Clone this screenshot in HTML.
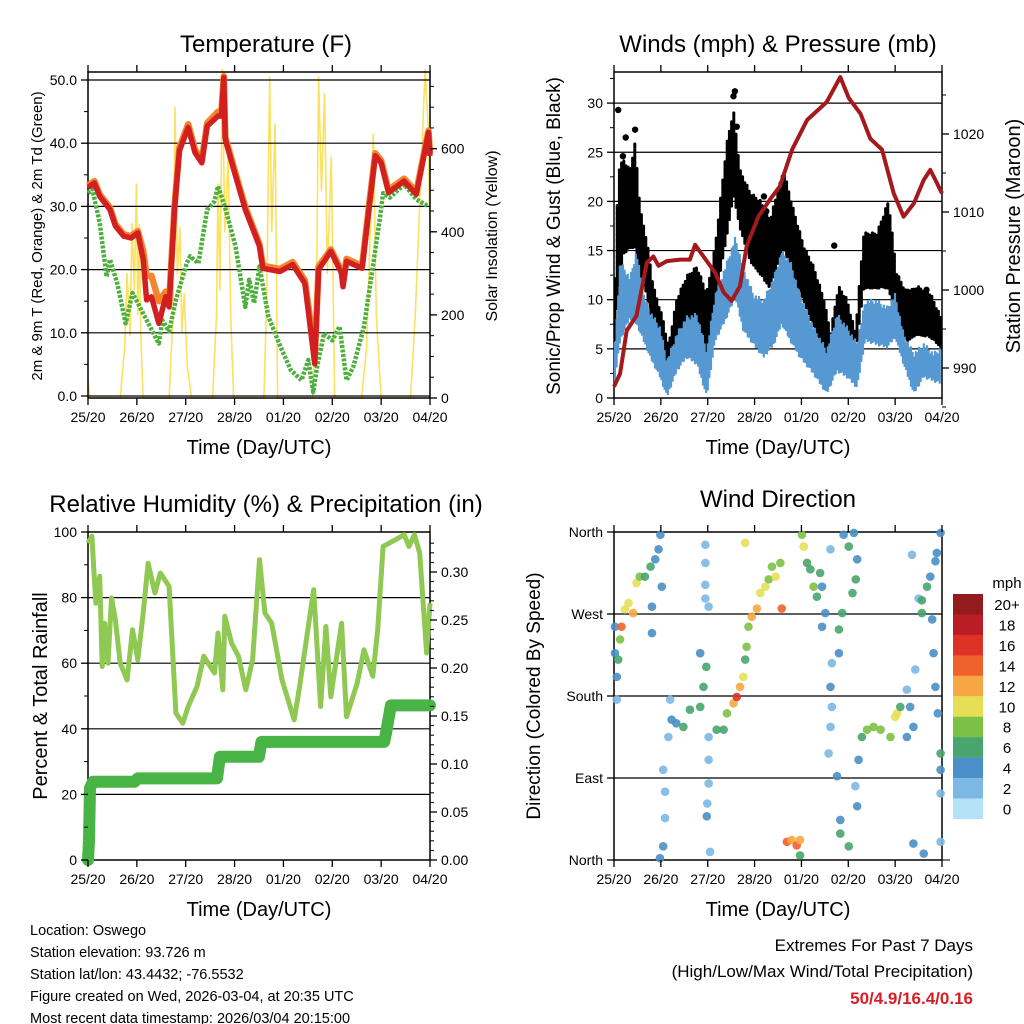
<!DOCTYPE html>
<html><head><meta charset="utf-8"><style>
body{margin:0;background:#fff;}
svg{display:block;font-family:"Liberation Sans",sans-serif;}
</style></head><body>
<svg id="c" width="1024" height="1024" viewBox="0 0 1024 1024"></svg>
<script>
// ---------- DATA ----------
const tempT=[0,0.13,0.24,0.45,0.56,0.73,0.88,1.02,1.13,1.2,1.3,1.45,1.59,1.66,1.77,1.87,2.05,2.19,2.33,2.44,2.66,2.73,2.78,2.81,2.98,3.22,3.51,3.58,3.93,4.19,4.44,4.54,4.64,4.72,4.97,5.19,5.22,5.29,5.61,5.75,5.88,6.0,6.15,6.47,6.72,6.86,6.97,7.0];
const temp2m=[33,33.7,31.6,29.5,26.9,25.3,25,25.8,21.6,15.2,15.7,11.5,15.7,14.1,29.5,38.8,42.5,38.5,36.9,42.7,44.3,44.3,50.4,40.6,35.9,29.5,23.7,20.2,19.7,20.8,17.8,11.5,5.1,20,22.9,19.4,17.3,21.3,20.2,29.5,38,36.9,32.2,34,31.9,37.4,41.7,38];
const temp9m=[33.3,34,31.9,29.8,27.2,25.6,25.3,26.1,23,19,19,15,16.5,14.8,30,39.3,43,39,37.3,43.2,45,45,50.6,41,36.3,29.9,24,20.6,20.1,21.2,18.3,12.5,6,20.5,23.2,19.8,17.8,21.7,20.6,30,38.4,37.3,32.6,34.4,32.3,37.8,42,38.4];
const dewT=[0,0.09,0.24,0.3,0.38,0.45,0.6,0.77,0.91,1.02,1.16,1.34,1.45,1.52,1.66,1.8,2.02,2.09,2.26,2.44,2.59,2.66,2.8,3.02,3.22,3.3,3.4,3.51,3.69,3.94,4.15,4.37,4.51,4.61,4.69,4.83,5.0,5.15,5.29,5.43,5.65,5.79,5.97,6.04,6.18,6.47,6.72,6.97];
const dewVals=[32.1,32.7,27.4,23.7,18.9,21.6,17.8,11.5,16.3,14.7,12.6,9.9,8.3,12,10.2,15.2,21,22.1,21,29.5,30.8,33.2,30,23.7,14.1,18.4,14.7,20.5,12.6,7.8,4.1,2.5,5.7,0.6,4.6,9.9,8.8,11,2.5,4.6,11,18.4,27.9,32.1,31.4,33.5,31.1,30];
const solarT=[0,0.03,0.06,0.66,0.75,0.8,0.86,0.9,0.95,0.99,1.02,1.05,1.08,1.13,1.66,1.74,1.78,1.83,1.88,1.92,1.97,2.03,2.12,2.55,2.63,2.66,2.7,2.75,2.8,2.87,2.92,2.98,3.6,3.66,3.72,3.76,3.83,3.88,4.6,4.68,4.72,4.78,4.84,4.9,4.98,5.05,5.6,5.7,5.84,5.9,6.0,6.6,6.7,6.9,6.96,7.0];
const solarVals=[40,10,0,0,120,300,150,420,260,515,200,418,150,0,0,200,700,300,410,160,250,80,0,0,200,515,260,790,400,580,200,0,0,250,773,400,660,0,0,300,773,500,732,300,580,0,0,120,635,200,0,0,200,790,660,400];
const presT=[0,0.13,0.27,0.48,0.7,0.84,0.95,1.13,1.41,1.62,1.73,1.91,2.16,2.34,2.51,2.69,2.83,3.08,3.33,3.54,3.8,4.12,4.54,4.83,5.01,5.26,5.47,5.72,5.97,6.18,6.4,6.61,6.75,6.86,7.0];
const presVals=[987.6,989.3,994.8,996.7,1003.5,1004.3,1003.1,1003.7,1003.9,1003.9,1005.8,1004.3,1002.2,999.7,998.6,1000.5,1005.6,1009.4,1011.6,1013.3,1018,1021.8,1024.1,1027.3,1024.6,1022.6,1019.4,1018,1012.4,1009.4,1011.1,1014.1,1015.4,1014.1,1012.4];
const windT=[0,0.13,0.34,0.48,0.63,0.77,0.98,1.13,1.34,1.55,1.77,1.98,2.16,2.37,2.59,2.76,2.98,3.19,3.41,3.58,3.76,3.97,4.26,4.54,4.76,4.97,5.19,5.36,5.61,5.83,6.0,6.18,6.4,6.61,6.82,7.0];
const windHi=[4,14.1,12.4,15.1,10.7,9,7.4,4,6.7,8.4,8.7,5,10.7,13.4,16.5,13.4,10.7,10.1,12.4,15.1,14.1,10.7,7.4,5,8.7,7.4,5.7,10.1,10.1,9.4,10.7,6.7,4.7,5.7,4.7,5.3];
const windLo=[0.9,5.7,8,7.4,5.7,4,2,0,2.6,4,3.3,0,5.7,7.7,10.1,6.7,5.3,4,5.3,7.4,5.7,4,2.3,0.3,2.6,2,0.9,5.7,5.3,5,6,3.3,0.3,2,1.6,1.3];
const gustT=[0,0.09,0.2,0.34,0.45,0.56,0.7,0.84,1.05,1.16,1.34,1.55,1.77,1.98,2.16,2.41,2.55,2.69,2.91,3.12,3.33,3.62,3.83,4.05,4.26,4.48,4.62,4.79,4.97,5.15,5.33,5.61,5.86,6.03,6.25,6.47,6.75,7.0];
const gustHi=[8.7,23.2,24.3,23.2,26,19.2,16.1,11.4,8,5.3,10.1,12.4,13.4,10.7,15.5,26,29.3,23.2,20.9,20.1,18.2,23.2,19.2,15.5,13.4,10.1,6.7,11.4,10.1,6.7,16.8,16.8,20.1,12.8,10.7,11.4,10.7,8];
const gustLo=[4.7,10.7,14.8,15.5,15.5,12.8,10.7,6.7,4,2,4.7,6.7,7.4,4,10.1,16.8,20.9,17.5,14.1,12.8,11.4,15.5,12.4,10.1,7.4,5,3.3,6.7,5.3,4.7,11.4,11.4,11.4,8,6,6.7,6.4,5.3];
const gustOutT=[0.09,0.19,0.25,0.45,2.55,2.58,2.62,3.2,3.25,4.7,5.59,6.27,6.67];
const gustOutV=[29.3,24.6,26.5,27.3,30.7,31.2,27.6,20.5,19,15.5,15.5,10.8,11];
const rhT=[0,0.08,0.16,0.24,0.29,0.34,0.41,0.48,0.56,0.66,0.8,0.91,1.02,1.13,1.23,1.37,1.48,1.66,1.8,1.94,2.05,2.23,2.37,2.59,2.66,2.76,2.8,2.94,3.08,3.23,3.37,3.51,3.62,3.76,3.97,4.22,4.33,4.51,4.62,4.76,4.87,4.97,5.19,5.29,5.51,5.65,5.83,5.93,6.04,6.36,6.47,6.57,6.68,6.79,6.93,7.0];
const rhVals=[96.6,98.7,78.3,86.5,59,72.2,60,79.9,73.2,60,54.9,70.2,61,75.3,90.5,81.4,87.5,83.4,44.8,41.7,46.8,52.9,62.1,57,69.2,51.9,74.3,66.1,62.1,51.9,61,91.6,75.3,72.2,54.9,42.7,52.9,71.2,82.4,46.8,71.2,49.8,72.2,43.7,53.9,64.1,56,70.2,95.6,98.2,99.2,95.6,99.2,93.6,63.1,78.3];
const precT=[0,0.02,0.04,0.1,0.95,1.02,2.64,2.7,3.5,3.55,6.06,6.1,6.2,7.0];
const precVals=[0,0.02,0.075,0.0815,0.0815,0.085,0.085,0.1075,0.1075,0.123,0.123,0.132,0.161,0.161];
const dirT=[0.02,0.02,0.06,0.06,0.09,0.13,0.16,0.23,0.31,0.41,0.48,0.55,0.66,0.78,0.88,0.95,0.99,1.02,0.81,0.81,
0.98,1.05,1.09,1.09,1.05,1.16,1.2,1.23,1.33,1.48,1.62,1.84,1.91,1.84,1.97,1.95,1.95,1.95,1.95,2.02,2.02,2.02,2.02,1.99,1.98,
2.05,2.19,2.34,2.41,2.55,2.62,2.69,2.76,2.8,2.83,2.87,2.94,3.05,3.12,3.23,3.3,3.37,3.45,3.55,2.8,
3.58,3.69,3.79,3.9,3.97,
3.97,4.01,4.05,4.12,4.19,4.26,4.33,4.4,4.44,4.51,4.44,
4.62,4.65,4.62,4.65,4.62,4.58,4.76,4.8,
4.8,4.83,5.01,4.83,4.9,5.01,5.19,5.16,5.09,4.87,
5.12,5.15,5.19,5.22,5.29,5.4,5.54,5.69,5.9,6.0,6.04,6.11,6.25,6.39,6.32,6.25,
6.43,6.5,6.57,6.57,6.68,6.75,6.79,6.82,6.86,6.91,6.97,6.97,6.61,6.39,6.36,6.97,6.97,6.97,6.89,6.86];
const dirVals=[256,227,201,176,220,242,256,275,282,271,304,311,311,322,330,341,357,300,278,249,
2,15,75,46,99,135,176,154,150,146,165,168,190,227,212,346,326,302,287,278,135,110,84,62,48,9,
143,143,161,172,179,190,201,220,234,256,267,276,293,300,308,322,311,326,348,276,
20,22,16,22,5,
357,344,326,319,300,289,315,300,271,256,341,
216,190,168,146,117,92,227,253,
29,15,44,357,344,330,308,293,271,359,
81,59,110,135,143,146,143,135,157,161,168,135,146,168,187,209,
287,271,285,300,311,264,227,190,161,117,99,7,18,335,73,20,359,337,328,139];
const dirSpd=[4,4,4,2,6,8,14,10,10,12,10,8,6,6,4,4,4,4,4,4,
4,4,2,2,2,2,2,4,4,6,6,6,6,4,6,2,2,2,2,2,2,2,2,2,4,2,
6,6,8,12,16,12,10,6,8,8,12,12,10,10,8,8,10,8,10,14,
14,12,14,12,6,
8,10,6,6,8,6,6,4,4,4,2,
2,4,2,2,2,4,4,6,
6,6,4,4,6,4,6,6,6,4,
2,4,4,6,8,8,8,8,10,10,6,4,4,4,2,2,
2,6,6,6,4,4,4,4,4,6,4,4,4,2,2,2,4,4,4,2];
const cbLabels=["20+","18","16","14","12","10","8","6","4","2","0"];
const cbColors=["#931a1d","#bb1d24","#dd3327","#f0622b","#f6a744","#e6df55","#7bc146","#47a56d","#4a8fc7","#7cb8e3","#b4e2f7"];
const dayLabels=["25/20","26/20","27/20","28/20","01/20","02/20","03/20","04/20"];

// ---------- HELPERS ----------
const NS="http://www.w3.org/2000/svg";
const svg=document.getElementById('c');
function mk(tag,attrs,parent){const e=document.createElementNS(NS,tag);for(const k in attrs)e.setAttribute(k,attrs[k]);(parent||svg).appendChild(e);return e;}
function txt(s,x,y,size,anchor,parent,extra){const e=mk('text',Object.assign({x:x,y:y,'font-size':size,'text-anchor':anchor||'middle',fill:'#000'},extra||{}),parent);e.textContent=s;return e;}
function spd2col(s){let i=Math.round(s/2);if(i>10)i=10;if(i<0)i=0;return cbColors[10-i];}
function path(xs,ys){return xs.map((x,i)=>(i?'L':'M')+x.toFixed(1)+' '+ys[i].toFixed(1)).join(' ');}
function interp(T,V,t){for(let i=1;i<T.length;i++){if(t<=T[i]){const f=(t-T[i-1])/(T[i]-T[i-1]||1);return V[i-1]+f*(V[i]-V[i-1]);}}return V[V.length-1];}

function axesFrame(g,x0,x1,y0,y1,grid){
  grid.forEach(y=>{const l=mk('line',{x1:x0,x2:x1,y1:y,y2:y,stroke:'#000','stroke-width':1.2},g);});
  const r=mk('rect',{x:x0,y:y0,width:x1-x0,height:y1-y0,fill:'none',stroke:'#000','stroke-width':1.5},g);
  
}
function xAxis(g,x0,x1,y0,y1){
  const xs=d=>x0+(x1-x0)*d/7;
  for(let d=0;d<=7;d++){
    mk('line',{x1:xs(d),x2:xs(d),y1:y1,y2:y1+7,stroke:'#000','stroke-width':1.3},g);
    mk('line',{x1:xs(d),x2:xs(d),y1:y0,y2:y0-7,stroke:'#000','stroke-width':1.3},g);
    const t=txt(dayLabels[d],xs(d),y1+24,14,'middle',g);
    
  }
  const t=txt('Time (Day/UTC)',(x0+x1)/2,y1+56,20,'middle',g);
  
  return xs;
}
function yTicks(g,x,vals,ys,labels,side,minors,size){
  const dir=side==='left'?-1:1;
  minors.forEach(v=>mk('line',{x1:x,x2:x+dir*4,y1:ys(v),y2:ys(v),stroke:'#000','stroke-width':1},g));
  vals.forEach((v,i)=>{
    mk('line',{x1:x,x2:x+dir*7,y1:ys(v),y2:ys(v),stroke:'#000','stroke-width':1.3},g);
    const t=txt(labels[i],x+dir*11,ys(v)+5,size||14,side==='left'?'end':'start',g);
    
  });
}
function rotLabel(g,s,x,y,size,name){const t=txt(s,x,y,size,'middle',g,{transform:`rotate(-90 ${x} ${y})`});}
function title(g,s,x,y){const t=txt(s,x,y,24,'middle',g);}
function range(a,b,s){const r=[];for(let v=a;v<=b+1e-9;v+=s)r.push(+v.toFixed(4));return r;}

// ---------- PANEL 1: Temperature ----------
(function(){
  const g=mk('g',{});
  const x0=88,x1=430,y0=72,y1=398;
  const ys=v=>396-v*6.32, ysS=v=>398-v*0.4155;
  title(g,'Temperature (F)',266,52);
  const xs=x=>x0+(x1-x0)*x/7;
  const s=mk('path',{d:path(solarT.map(xs),solarVals.map(ysS)),fill:'none',stroke:'#fbe15f','stroke-width':1.6,'stroke-linejoin':'round'},g);
  
  axesFrame(g,x0,x1,y0,y1,range(0,50,10).map(ys));
  const d=mk('path',{d:path(dewT.map(xs),dewVals.map(ys)),fill:'none',stroke:'#4caf3e','stroke-width':4.5,'stroke-dasharray':'3 1.5','stroke-linejoin':'round'},g);
  
  const o=mk('path',{d:path(tempT.map(xs),temp9m.map(ys)),fill:'none',stroke:'#f2852d','stroke-width':6.5,'stroke-linejoin':'round'},g);
  
  const r=mk('path',{d:path(tempT.map(xs),temp2m.map(ys)),fill:'none',stroke:'#d21f1f','stroke-width':5.5,'stroke-linejoin':'round'},g);
  
  xAxis(g,x0,x1,y0,y1);
  yTicks(g,x0,range(0,50,10),ys,['0.0','10.0','20.0','30.0','40.0','50.0'],'left',range(5,45,10));
  yTicks(g,x1,[0,200,400,600],ysS,['0','200','400','600'],'right',range(50,750,50));
  rotLabel(g,'2m & 9m T (Red, Orange) & 2m Td (Green)',42,236,15,'left-y-axis-title');
  rotLabel(g,'Solar Insolation (Yellow)',497,236,16,'right-y-axis-title');
})();

// ---------- PANEL 2: Winds & Pressure ----------
(function(){
  const g=mk('g',{});
  const x0=614,x1=942,y0=72,y1=398;
  const ys=v=>398-v*9.83, ysP=v=>290-(v-1000)*7.8;
  const xs=x=>x0+(x1-x0)*x/7;
  title(g,'Winds (mph) & Pressure (mb)',778,52);
  axesFrame(g,x0,x1,y0,y1,range(5,30,5).map(ys));
  // gust cloud: vertical dotted strokes between envelope values
  const gg=mk('g',{},g);
  let k=0;
  for(let px=x0+1;px<=x1-1;px+=2.2){
    const t=(px-x0)/(x1-x0)*7;
    const hi=interp(gustT,gustHi,t), lo=interp(gustT,gustLo,t);
    const j=(k%3)*1.2; k++;
    mk('line',{x1:px,x2:px,y1:ys(hi)+j,y2:ys(lo)+2,stroke:'#000','stroke-width':3,'stroke-linecap':'round','stroke-dasharray':'4 1.5'},gg);
  }
  gustOutT.forEach((t,i)=>{const c=mk('circle',{cx:xs(t),cy:ys(gustOutV[i]),r:3.2,fill:'#000'},g);});
  const bg=mk('g',{},g);
  k=0;
  for(let px=x0+1;px<=x1-1;px+=1.6){
    const t=(px-x0)/(x1-x0)*7;
    const hi=interp(windT,windHi,t), lo=interp(windT,windLo,t);
    const j=((k*7)%5)*1.3; k++;
    mk('line',{x1:px,x2:px,y1:ys(hi)+j,y2:ys(lo)-j*0.6,stroke:'#5699d2','stroke-width':2.2},bg);
  }
  const p=mk('path',{d:path(presT.map(xs),presVals.map(ysP)),fill:'none',stroke:'#a3191c','stroke-width':4,'stroke-linejoin':'round'},g);
  
  xAxis(g,x0,x1,y0,y1);
  yTicks(g,x0,range(0,30,5),ys,['0','5','10','15','20','25','30'],'left',range(2.5,32.5,5));
  yTicks(g,x1,[990,1000,1010,1020],ysP,['990','1000','1010','1020'],'right',range(985,1025,5));
  rotLabel(g,'Sonic/Prop Wind & Gust (Blue, Black)',560,236,19,'left-y-axis-title');
  rotLabel(g,'Station Pressure (Maroon)',1020,236,20,'right-y-axis-title');
})();

// ---------- PANEL 3: RH & Precip ----------
(function(){
  const g=mk('g',{});
  const x0=88,x1=430,y0=532,y1=860;
  const ys=v=>860-v*3.28, ysP=v=>860-v*960;
  const xs=x=>x0+(x1-x0)*x/7;
  title(g,'Relative Humidity (%) & Precipitation (in)',266,512);
  axesFrame(g,x0,x1,y0,y1,range(20,80,20).map(ys));
  const r=mk('path',{d:path(rhT.map(xs),rhVals.map(ys)),fill:'none',stroke:'#8fc852','stroke-width':5,'stroke-linejoin':'round'},g);
  
  const p=mk('path',{d:path(precT.map(xs),precVals.map(ysP)),fill:'none',stroke:'#48b446','stroke-width':12,'stroke-linejoin':'round','stroke-linecap':'round'},g);
  
  xAxis(g,x0,x1,y0,y1);
  yTicks(g,x0,range(0,100,20),ys,['0','20','40','60','80','100'],'left',range(10,90,20));
  yTicks(g,x1,range(0,0.3,0.05),ysP,['0.00','0.05','0.10','0.15','0.20','0.25','0.30'],'right',range(0.01,0.33,0.01));
  rotLabel(g,'Percent & Total Rainfall',47,696,20,'left-y-axis-title');
})();

// ---------- PANEL 4: Wind Direction ----------
(function(){
  const g=mk('g',{});
  const x0=614,x1=942,y0=532,y1=860;
  const ys=v=>860-v*328/360;
  const xs=x=>x0+(x1-x0)*x/7;
  title(g,'Wind Direction',778,507);
  axesFrame(g,x0,x1,y0,y1,[90,180,270].map(ys));
  dirT.forEach((t,i)=>{
    const c=mk('circle',{cx:xs(t),cy:ys(dirVals[i]),r:4.3,fill:spd2col(dirSpd[i]),'fill-opacity':0.9},g);
    
  });
  xAxis(g,x0,x1,y0,y1);
  yTicks(g,x0,[0,90,180,270,360],ys,['North','East','South','West','North'],'left',[]);
  mk('line',{x1:x1,x2:x1+8,y1:ys(0),y2:ys(0),stroke:'#000'},g);
  rotLabel(g,'Direction (Colored By Speed)',540,696,19,'left-y-axis-title');
  const cb=mk('g',{},g);
  const t=txt('mph',1007,588,15,'middle',cb);
  cbLabels.forEach((l,i)=>{
    const r=mk('rect',{x:953,y:594+i*20.45,width:30,height:20.6,fill:cbColors[i]},cb);
    
    const tt=txt(l,1007,594+i*20.45+16,15,'middle',cb);
    
  });
})();

// ---------- FOOTER ----------
(function(){
  const g=mk('g',{});
  ['Location: Oswego','Station elevation: 93.726 m','Station lat/lon: 43.4432; -76.5532','Figure created on Wed, 2026-03-04, at 20:35 UTC','Most recent data timestamp: 2026/03/04 20:15:00'].forEach((s,i)=>{
    const t=txt(s,30,935+i*22,14.5,'start',g);
  });
  const g2=mk('g',{});
  let t=txt('Extremes For Past 7 Days',973,951,17,'end',g2);
  t=txt('(High/Low/Max Wind/Total Precipitation)',973,977,17,'end',g2);
  t=txt('50/4.9/16.4/0.16',973,1004,17,'end',g2,{fill:'#d42027','font-weight':'bold'});
})();
</script>
</body></html>
